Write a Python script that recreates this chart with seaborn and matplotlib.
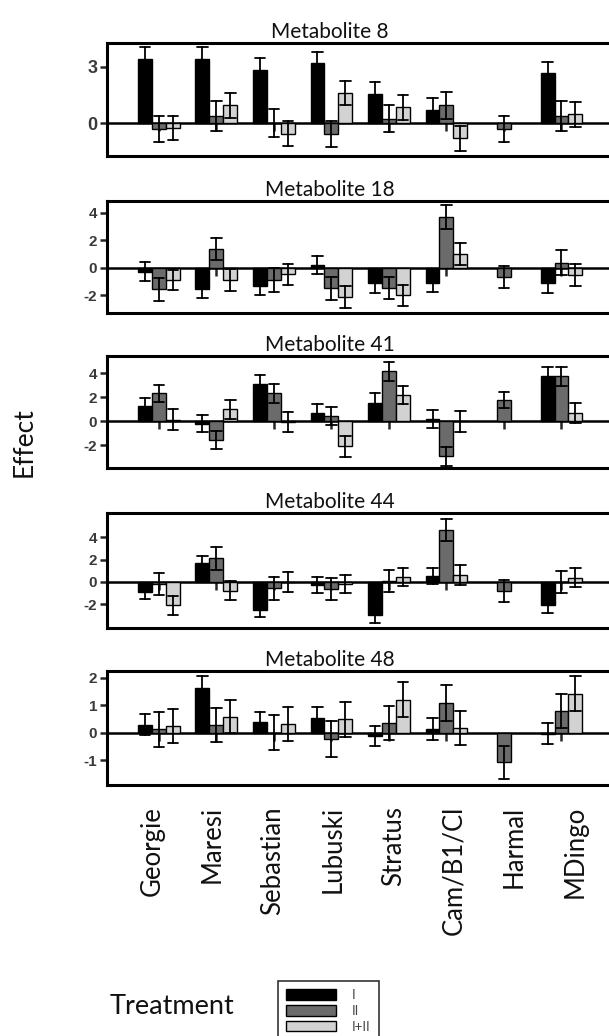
import numpy as np
import pandas as pd
import matplotlib
matplotlib.use("Agg")
import matplotlib.pyplot as plt
import seaborn as sns

# ---------------- data ----------------
lines = ["Georgie", "Maresi", "Sebastian", "Lubuski", "Stratus", "Cam/B1/Cl", "Harmal", "MDingo"]
treatments = ["I", "II", "I+II"]
metabolites = ["Metabolite 8", "Metabolite 18", "Metabolite 41", "Metabolite 44", "Metabolite 48"]
nan = np.nan

m8_I = [3.40, 3.40, 2.80, 3.17, 1.55, 0.72, nan, 2.65]
m8_II = [-0.30, 0.37, 0.02, -0.56, 0.25, 0.95, -0.30, 0.40]
m8_I_II = [-0.24, 0.95, -0.55, 1.62, 0.85, -0.80, nan, 0.47]
m8_I_err = [0.62, 0.62, 0.65, 0.62, 0.62, 0.64, nan, 0.58]
m8_II_err = [0.70, 0.80, 0.72, 0.67, 0.72, 0.70, 0.68, 0.80]
m8_I_II_err = [0.64, 0.65, 0.65, 0.64, 0.65, 0.65, nan, 0.65]

m18_I = [-0.28, -1.58, -1.33, 0.19, -1.14, -1.09, nan, -1.14]
m18_II = [-1.58, 1.36, -0.90, -1.50, -1.50, 3.66, -0.70, 0.36]
m18_I_II = [-0.90, -0.90, -0.48, -2.16, -2.00, 0.99, nan, -0.53]
m18_I_err = [0.67, 0.65, 0.66, 0.65, 0.68, 0.66, nan, 0.68]
m18_II_err = [0.82, 0.82, 0.90, 0.85, 0.80, 0.88, 0.80, 0.90]
m18_I_II_err = [0.72, 0.80, 0.77, 0.80, 0.77, 0.78, nan, 0.80]

m41_I = [1.26, -0.20, 3.10, 0.70, 1.54, 0.15, nan, 3.72]
m41_II = [2.32, -1.54, 2.32, 0.42, 4.14, -2.94, 1.76, 3.72]
m41_I_II = [0.10, 0.98, -0.05, -2.10, 2.18, 0.00, nan, 0.70]
m41_I_err = [0.67, 0.72, 0.70, 0.70, 0.78, 0.75, nan, 0.76]
m41_II_err = [0.70, 0.75, 0.78, 0.78, 0.78, 0.77, 0.70, 0.76]
m41_I_II_err = [0.87, 0.78, 0.84, 0.88, 0.78, 0.88, nan, 0.85]

m44_I = [-0.87, 1.67, -2.50, -0.24, -2.96, 0.54, nan, -2.06]
m44_II = [-0.16, 2.12, -0.57, -0.60, 0.10, 4.66, -0.78, 0.02]
m44_I_II = [-2.06, -0.78, 0.00, -0.20, 0.42, 0.63, nan, 0.37]
m44_I_err = [0.68, 0.69, 0.66, 0.72, 0.68, 0.68, nan, 0.74]
m44_II_err = [1.00, 1.04, 1.00, 1.00, 0.97, 0.98, 0.98, 1.00]
m44_I_II_err = [0.85, 0.83, 0.85, 0.82, 0.82, 0.90, nan, 0.85]

m48_I = [0.28, 1.64, 0.40, 0.55, -0.12, 0.12, nan, -0.04]
m48_II = [0.12, 0.28, 0.00, -0.24, 0.36, 1.08, -1.08, 0.80]
m48_I_II = [0.24, 0.58, 0.31, 0.48, 1.20, 0.18, nan, 1.42]
m48_I_err = [0.38, 0.41, 0.36, 0.39, 0.37, 0.40, nan, 0.38]
m48_II_err = [0.63, 0.62, 0.63, 0.65, 0.62, 0.64, 0.60, 0.62]
m48_I_II_err = [0.63, 0.60, 0.63, 0.64, 0.63, 0.62, nan, 0.63]

y_ticks = [[0, 3], [-2, 0, 2, 4], [-2, 0, 2, 4], [-2, 0, 2, 4], [-1, 0, 1, 2]]
y_limits = [(-1.73, 4.27), (-3.32, 4.87), (-3.9, 5.42), (-4.08, 6.13), (-1.9, 2.25)]

means = [[m8_I, m8_II, m8_I_II], [m18_I, m18_II, m18_I_II], [m41_I, m41_II, m41_I_II],
         [m44_I, m44_II, m44_I_II], [m48_I, m48_II, m48_I_II]]
errs = [[m8_I_err, m8_II_err, m8_I_II_err], [m18_I_err, m18_II_err, m18_I_II_err],
        [m41_I_err, m41_II_err, m41_I_II_err], [m44_I_err, m44_II_err, m44_I_II_err],
        [m48_I_err, m48_II_err, m48_I_II_err]]

# long table: each cell gets (mean - err, mean + err) -> mean bar, min/max error bar
rows = []
for met, mset, eset in zip(metabolites, means, errs):
    for tr, mv, ev in zip(treatments, mset, eset):
        for ln, m, e in zip(lines, mv, ev):
            if np.isnan(m):
                continue
            rows.append((met, ln, tr, m - e))
            rows.append((met, ln, tr, m + e))
df = pd.DataFrame(rows, columns=["metabolite", "line", "treatment", "value"])

# ---------------- style ----------------
sns.set_theme(style="white")
plt.rcParams["font.family"] = ["Lato", "DejaVu Sans"]
plt.rcParams["axes.unicode_minus"] = False

palette = {"I": "#000000", "II": "#6b6b6b", "I+II": "#d2d2d2"}
W, H = 609, 1036
fig = plt.figure(figsize=(W / 100, H / 100), dpi=100)

panel_px = [(42.7, 156.0), (200.7, 313.3), (356.0, 468.0), (513.3, 627.7), (670.7, 785.0)]
left_px, right_px = 107, 619
xlim = (-0.904, 8.0)

handles = labels = None
for i, met in enumerate(metabolites):
    top, bot = panel_px[i]
    ax = fig.add_axes([left_px / W, 1 - bot / H, (right_px - left_px) / W, (bot - top) / H])
    sub = df[df["metabolite"] == met]
    sns.barplot(data=sub, x="line", y="value", hue="treatment", order=lines,
                hue_order=treatments, palette=palette, width=0.73,
                errorbar=lambda v: (v.min(), v.max()), capsize=0.55,
                err_kws={"color": "black", "linewidth": 1.3},
                edgecolor="black", linewidth=1.0, saturation=1, ax=ax,
                legend=(i == 0))
    if i == 0:
        handles, labels = ax.get_legend_handles_labels()
        ax.get_legend().remove()
    ax.set_xlim(*xlim)
    ax.set_ylim(*y_limits[i])
    ax.set_yticks(y_ticks[i])
    ax.set_yticklabels([str(t) for t in y_ticks[i]], family="Liberation Sans",
                       fontweight="bold", color="#3a3a3a")
    ax.tick_params(axis="y", direction="out", length=5, width=1.8, left=True,
                   labelsize=13 if i == 0 else 11, pad=2)
    ax.tick_params(axis="x", bottom=False, labelbottom=False)
    ax.set_xlabel("")
    ax.set_ylabel("")
    for s in ax.spines.values():
        s.set_linewidth(2.2)
        s.set_color("black")
    ax.set_title(met, fontsize=15, x=0.4355, pad=3.5, color="#111111")
    # zero line with category ticks
    y0, y1 = y_limits[i]
    sec = ax.secondary_xaxis((0 - y0) / (y1 - y0))
    sec.set_xticks(range(len(lines)))
    sec.tick_params(axis="x", direction="out", length=6, width=1.8, labelbottom=False,
                    labeltop=False, bottom=True, top=False)
    for s in sec.spines.values():
        s.set_linewidth(1.8)
        s.set_color("black")

# category labels
lab_ax = fig.add_axes([left_px / W, 1 - 806 / H, (right_px - left_px) / W, 0.0005])
lab_ax.set_xlim(-0.745, 7.73)
lab_ax.set_xticks(range(len(lines)))
lab_ax.set_xticklabels(lines, rotation=90, fontsize=18.5, color="#111111")
lab_ax.tick_params(axis="x", length=0, pad=0)
lab_ax.set_yticks([])
for s in lab_ax.spines.values():
    s.set_visible(False)
lab_ax.patch.set_visible(False)

fig.text(24 / W, 1 - 442 / H, "Effect", rotation=90, fontsize=19, ha="center", va="center",
         color="#111111")
fig.text(172 / W, 1 - 1007 / H, "Treatment", fontsize=19.5, ha="center", va="center",
         color="#111111")

leg = fig.legend(handles, labels, loc="upper left", bbox_to_anchor=(271 / W, 1 - 974 / H),
                 fontsize=9.5, handlelength=3.8, handleheight=0.85, labelspacing=0.28,
                 handletextpad=1.2, borderpad=0.65, frameon=True, fancybox=False,
                 labelcolor="#444444")
leg.get_frame().set_edgecolor("black")
leg.get_frame().set_linewidth(1.2)

fig.savefig("out.png", dpi=100)
